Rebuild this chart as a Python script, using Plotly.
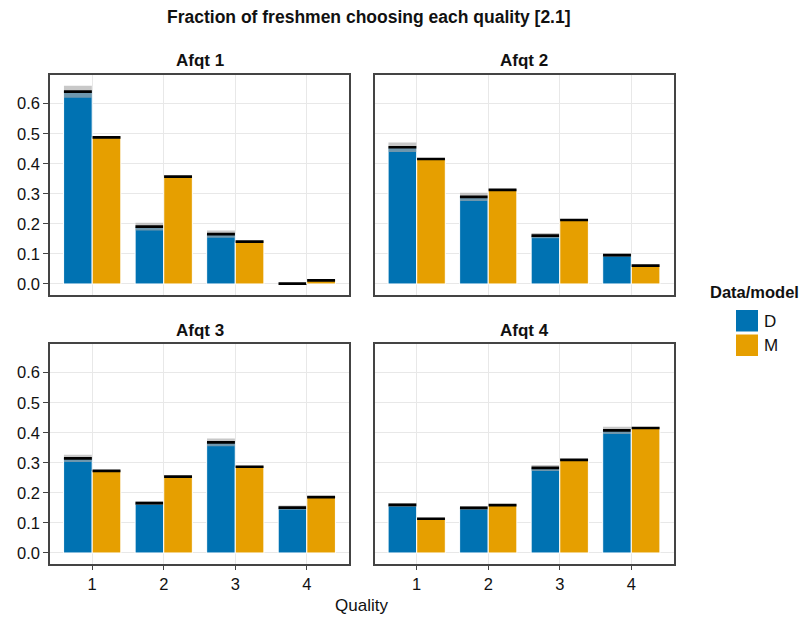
import plotly.graph_objects as go

W, H = 803, 618

qualities = [1, 2, 3, 4]
panels = ["Afqt 1", "Afqt 2", "Afqt 3", "Afqt 4"]

# Data (D) fractions and confidence half-widths per panel
data_afqt1 = [0.640, 0.191, 0.166, 0.001]
data_afqt2 = [0.455, 0.290, 0.161, 0.096]
data_afqt3 = [0.315, 0.166, 0.368, 0.151]
data_afqt4 = [0.160, 0.150, 0.283, 0.408]
ci_afqt1 = [0.020, 0.013, 0.012, 0.003]
ci_afqt2 = [0.016, 0.014, 0.009, 0.005]
ci_afqt3 = [0.012, 0.006, 0.013, 0.007]
ci_afqt4 = [0.006, 0.006, 0.010, 0.012]

# Model (M) fractions
model_afqt1 = [0.488, 0.357, 0.141, 0.012]
model_afqt2 = [0.416, 0.313, 0.213, 0.061]
model_afqt3 = [0.273, 0.254, 0.287, 0.186]
model_afqt4 = [0.114, 0.159, 0.310, 0.416]
model_ci = [0.003, 0.003, 0.003, 0.003]

data_vals = [data_afqt1, data_afqt2, data_afqt3, data_afqt4]
data_cis = [ci_afqt1, ci_afqt2, ci_afqt3, ci_afqt4]
model_vals = [model_afqt1, model_afqt2, model_afqt3, model_afqt4]

series_names = ["D", "M"]
colors = ["#0072B2", "#E69F00"]
y_ticks = [0.0, 0.1, 0.2, 0.3, 0.4, 0.5, 0.6]

FONT = "Liberation Sans, Arial, Helvetica, sans-serif"
TXT = "#111"

# panel pixel boxes (left, right, top, bottom)
cols_px = [(50, 349), (374.5, 673.5)]
rows_px = [(75, 294.5), (344, 563.5)]

def xdom(l, r):
    return [l / W, r / W]

def ydom(t, b):
    return [1 - b / H, 1 - t / H]

fig = go.Figure()
layout = dict(
    width=W, height=H, margin=dict(l=0, r=0, t=0, b=0),
    paper_bgcolor="white", plot_bgcolor="white",
    barmode="overlay", showlegend=False,
    font=dict(family=FONT, size=16, color=TXT),
)

bar_w = 0.4
band = 0.009
annotations = []
for i in range(4):
    r, c = divmod(i, 2)
    ax = "" if i == 0 else str(i + 1)
    xa, ya = "x" + ax, "y" + ax
    dv, dc, mv = data_vals[i], data_cis[i], model_vals[i]
    for s, (vals, cis) in enumerate([(dv, dc), (mv, model_ci)]):
        off = -bar_w if s == 0 else 0.0
        fig.add_trace(go.Bar(
            x=qualities, y=vals, width=bar_w, offset=off,
            marker=dict(color=colors[s], line=dict(color="white", width=1)),
            xaxis=xa, yaxis=ya, name=series_names[s], hoverinfo="skip"))
        fig.add_trace(go.Bar(
            x=qualities, y=[2 * e for e in cis], base=[v - e for v, e in zip(vals, cis)],
            width=bar_w - 0.01, offset=off + 0.005,
            marker=dict(color="rgba(170,170,170,0.65)", line=dict(width=0)),
            xaxis=xa, yaxis=ya, hoverinfo="skip"))
        fig.add_trace(go.Bar(
            x=qualities, y=[band] * 4, base=[v - band / 2 for v in vals],
            width=bar_w - 0.01, offset=off + 0.005,
            marker=dict(color="black", line=dict(width=0)),
            xaxis=xa, yaxis=ya, hoverinfo="skip"))

    xname = "xaxis" + ax
    yname = "yaxis" + ax
    layout[xname] = dict(
        domain=xdom(*cols_px[c]), anchor=ya, range=[0.41, 4.59],
        tickmode="array", tickvals=qualities,
        ticktext=[str(q) for q in qualities] if r == 1 else ["", "", "", ""],
        ticks="outside" if r == 1 else "", ticklen=5, tickcolor="#444",
        showgrid=True, gridcolor="#e8e8e8", gridwidth=1,
        showline=True, linecolor="#444", linewidth=1.5, mirror=True,
        zeroline=False, tickfont=dict(size=16.5, family=FONT, color=TXT),
        fixedrange=True,
    )
    layout[yname] = dict(
        domain=ydom(*rows_px[r]), anchor=xa, range=[-0.035, 0.6955],
        tickmode="array", tickvals=y_ticks,
        ticktext=[f"{t:.1f}" for t in y_ticks] if c == 0 else [""] * len(y_ticks),
        ticks="outside" if c == 0 else "", ticklen=5, tickcolor="#444",
        showgrid=True, gridcolor="#e8e8e8", gridwidth=1,
        showline=True, linecolor="#444", linewidth=1.5, mirror=True,
        zeroline=False, tickfont=dict(size=16.5, family=FONT, color=TXT),
        fixedrange=True,
    )
    cx = (cols_px[c][0] + cols_px[c][1]) / 2 / W
    ty = 1 - (rows_px[r][0] - 14) / H
    annotations.append(dict(
        text="<b>" + panels[i] + "</b>", x=cx, y=ty, xref="paper", yref="paper",
        xanchor="center", yanchor="middle", showarrow=False,
        font=dict(size=17, family=FONT, color=TXT)))

annotations.append(dict(
    text="<b>Fraction of freshmen choosing each quality [2.1]</b>",
    x=369 / W, y=1 - 17 / H, xref="paper", yref="paper",
    xanchor="center", yanchor="middle", showarrow=False,
    font=dict(size=17.5, family=FONT, color=TXT)))
annotations.append(dict(
    text="Quality", x=361.5 / W, y=1 - 605 / H, xref="paper", yref="paper",
    xanchor="center", yanchor="middle", showarrow=False,
    font=dict(size=17, family=FONT, color=TXT)))

# legend
annotations.append(dict(
    text="<b>Data/model</b>", x=754 / W, y=1 - 292 / H, xref="paper", yref="paper",
    xanchor="center", yanchor="middle", showarrow=False,
    font=dict(size=16.5, family=FONT, color=TXT)))
shapes = []
for k, (name, col) in enumerate(zip(series_names, colors)):
    top = 310 + k * 24.5
    shapes.append(dict(type="rect", xref="paper", yref="paper",
                       x0=736 / W, x1=758 / W, y0=1 - (top + 21.5) / H, y1=1 - top / H,
                       fillcolor=col, line=dict(width=0)))
    annotations.append(dict(
        text=name, x=762 / W, y=1 - (top + 11) / H, xref="paper", yref="paper",
        xanchor="left", yanchor="middle", showarrow=False,
        font=dict(size=17, family=FONT, color=TXT)))

layout["annotations"] = annotations
layout["shapes"] = shapes
fig.update_layout(**layout)
fig.write_html("out.html")
